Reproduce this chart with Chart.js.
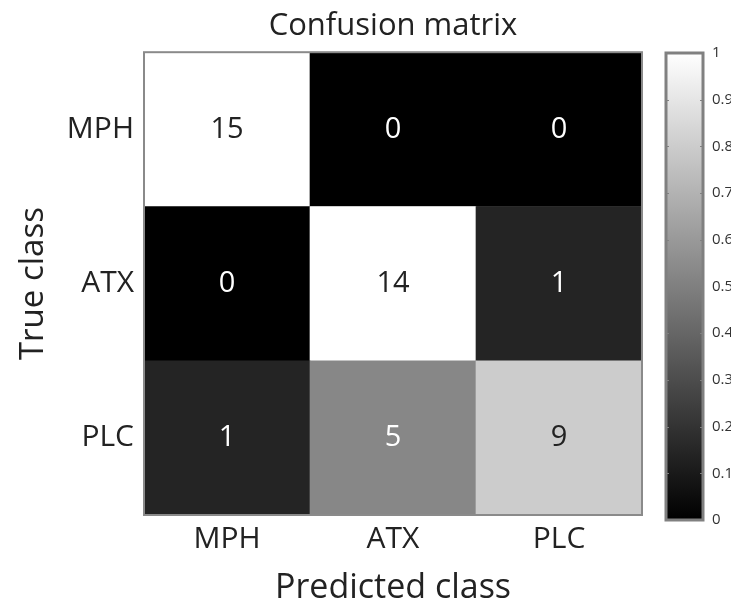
<!DOCTYPE html>
<html>
<head>
<meta charset="utf-8">
<script src="https://cdn.jsdelivr.net/npm/chart.js@4"></script>
<style>
  html, body { margin: 0; padding: 0; background: #fff; }
  #wrap { position: relative; width: 731px; height: 602px; overflow: hidden; }
  #cm { position: absolute; left: 0; top: 0; }
  #bar { position: absolute; left: 650px; top: 0; }
</style>
</head>
<body>
<div id="wrap">
  <canvas id="cm" width="660" height="602"></canvas>
  <canvas id="bar" width="81" height="602"></canvas>
</div>
<script>
// confusion matrix data
var trueClasses = ["MPH", "ATX", "PLC"];
var predictedClasses = ["MPH", "ATX", "PLC"];
var counts = [
  [15, 0, 0],
  [0, 14, 1],
  [1, 5, 9]
];
var colorbarTicks = [0, 0.1, 0.2, 0.3, 0.4, 0.5, 0.6, 0.7, 0.8, 0.9, 1];

// grey level for a given row fraction
var shadeCurve = [[0, 0], [0.067, 0.14], [0.333, 0.53], [0.6, 0.8], [0.933, 1], [1, 1]];
function shade(f) {
  var g = 1;
  for (var i = 1; i < shadeCurve.length; i++) {
    if (f <= shadeCurve[i][0]) {
      var a = shadeCurve[i - 1], b = shadeCurve[i];
      g = a[1] + (b[1] - a[1]) * (f - a[0]) / (b[0] - a[0]);
      break;
    }
  }
  var c = Math.round(g * 255);
  return "rgb(" + c + "," + c + "," + c + ")";
}
function rowFraction(r, c) {
  var total = counts[r].reduce(function (s, v) { return s + v; }, 0);
  return counts[r][c] / total;
}

var fontFamily = "'Open Sans', 'Noto Sans', sans-serif";

// one stacked dataset per true class, bottom row first
var datasets = [];
for (var k = trueClasses.length - 1; k >= 0; k--) {
  (function (row) {
    datasets.push({
      label: trueClasses[row],
      row: row,
      data: predictedClasses.map(function () { return 1; }),
      backgroundColor: predictedClasses.map(function (_, c) { return shade(rowFraction(row, c)); }),
      borderWidth: 0,
      barPercentage: 1,
      categoryPercentage: 1
    });
  })(k);
}

var cellLabels = {
  id: "cellLabels",
  afterDatasetsDraw: function (chart) {
    var ctx = chart.ctx;
    ctx.save();
    ctx.font = "29px " + fontFamily;
    ctx.textAlign = "center";
    ctx.textBaseline = "middle";
    chart.data.datasets.forEach(function (ds, i) {
      chart.getDatasetMeta(i).data.forEach(function (bar, c) {
        var f = rowFraction(ds.row, c);
        ctx.fillStyle = f > 0.5 ? "#222" : "#fff";
        ctx.fillText(String(counts[ds.row][c]), bar.x, (bar.y + bar.base) / 2);
      });
    });
    // frame
    var a = chart.chartArea;
    ctx.strokeStyle = "#8a8a8a";
    ctx.lineWidth = 2;
    ctx.strokeRect(a.left, a.top, a.right - a.left, a.bottom - a.top);
    ctx.restore();
  }
};

var whiteBg = {
  id: "whiteBg",
  beforeDraw: function (chart) {
    var ctx = chart.ctx;
    ctx.save();
    ctx.fillStyle = "#fff";
    ctx.fillRect(0, 0, chart.width, chart.height);
    ctx.restore();
  }
};

new Chart(document.getElementById("cm"), {
  type: "bar",
  data: { labels: predictedClasses, datasets: datasets },
  options: {
    responsive: false,
    animation: false,
    layout: { padding: { left: 14, right: 18, top: 0, bottom: 0 } },
    plugins: {
      legend: { display: false },
      tooltip: { enabled: false },
      title: {
        display: true,
        fullSize: false,
        text: "Confusion matrix",
        color: "#222",
        font: { family: fontFamily, size: 31, weight: "normal" },
        padding: { top: 8, bottom: 7 }
      }
    },
    scales: {
      x: {
        stacked: true,
        grid: { display: false, drawTicks: false },
        border: { display: false },
        ticks: { color: "#222", font: { family: fontFamily, size: 30 }, padding: 6 },
        title: { display: true, text: "Predicted class", color: "#222", font: { family: fontFamily, size: 34, lineHeight: 0.8 }, padding: 0 },
        afterFit: function (s) { s.height = 87; }
      },
      y: {
        stacked: true,
        min: 0,
        max: 3,
        grid: { display: false, drawTicks: false },
        border: { display: false },
        afterBuildTicks: function (s) {
          s.ticks = trueClasses.map(function (_, i) { return { value: i + 0.5 }; });
        },
        ticks: {
          color: "#222",
          font: { family: fontFamily, size: 30 },
          padding: 10,
          callback: function (v) { return trueClasses[trueClasses.length - 1 - Math.floor(v)]; }
        },
        title: { display: true, text: "True class", color: "#222", font: { family: fontFamily, size: 33 }, padding: 0 },
        afterFit: function (s) { s.width = 130; }
      }
    }
  },
  plugins: [whiteBg, cellLabels]
});

// colorbar
var barFrame = {
  id: "barFrame",
  afterDatasetsDraw: function (chart) {
    var ctx = chart.ctx, a = chart.chartArea, y = chart.scales.y;
    ctx.save();
    ctx.strokeStyle = "#808080";
    ctx.lineWidth = 3;
    ctx.strokeRect(a.left, a.top, a.right - a.left, a.bottom - a.top);
    ctx.lineWidth = 1;
    colorbarTicks.forEach(function (t) {
      var py = Math.round(y.getPixelForValue(t)) + 0.5;
      ctx.beginPath();
      ctx.moveTo(a.left, py); ctx.lineTo(a.left + 3, py);
      ctx.moveTo(a.right, py); ctx.lineTo(a.right - 3, py);
      ctx.stroke();
    });
    ctx.restore();
  }
};

new Chart(document.getElementById("bar"), {
  type: "bar",
  data: {
    labels: [""],
    datasets: [{
      data: [1],
      borderWidth: 0,
      barPercentage: 1,
      categoryPercentage: 1,
      backgroundColor: function (context) {
        var a = context.chart.chartArea;
        if (!a) return "#888";
        var g = context.chart.ctx.createLinearGradient(0, a.bottom, 0, a.top);
        g.addColorStop(0, "#000");
        g.addColorStop(1, "#fff");
        return g;
      }
    }]
  },
  options: {
    responsive: false,
    animation: false,
    layout: { padding: { left: 16, right: 0, top: 53, bottom: 82 } },
    plugins: { legend: { display: false }, tooltip: { enabled: false } },
    scales: {
      x: { display: false },
      y: {
        position: "right",
        min: 0,
        max: 1,
        grid: { display: false, drawTicks: false },
        border: { display: false },
        afterBuildTicks: function (s) {
          s.ticks = colorbarTicks.map(function (t) { return { value: t }; });
        },
        ticks: {
          color: "#333",
          font: { family: fontFamily, size: 15 },
          padding: 9,
          callback: function (v) { return String(Math.round(v * 10) / 10); }
        },
        afterFit: function (s) { s.width = 28; }
      }
    }
  },
  plugins: [whiteBg, barFrame]
});
</script>
</body>
</html>
